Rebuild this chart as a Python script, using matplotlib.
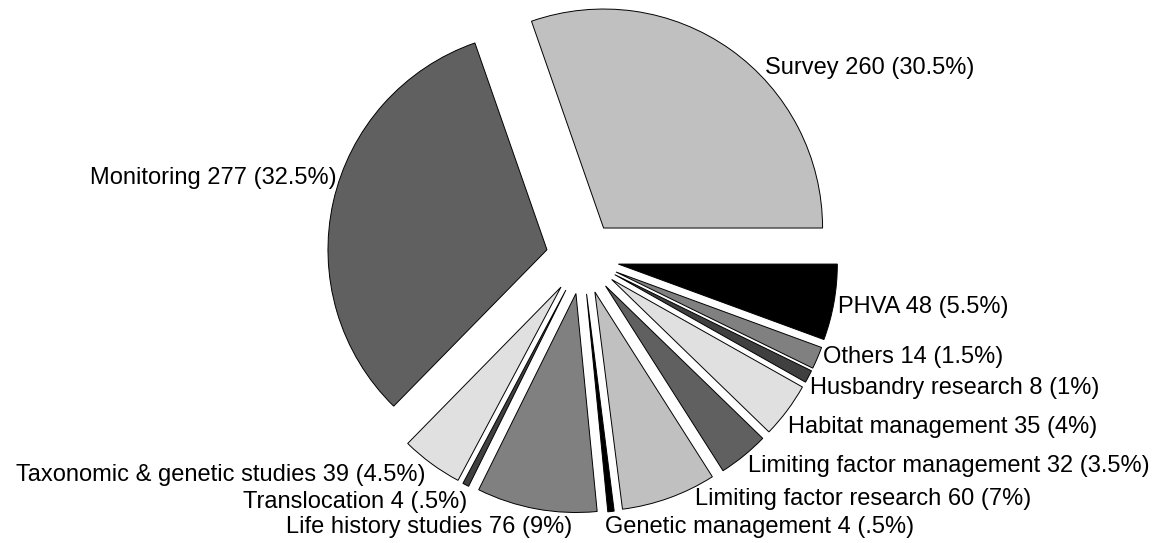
import matplotlib
matplotlib.use("Agg")
import matplotlib.pyplot as plt

plt.rcParams["font.family"] = ["Liberation Sans", "DejaVu Sans"]

# Activity categories and number of projects, counter-clockwise from 3 o'clock
categories = [
    "Survey",
    "Monitoring",
    "Taxonomic & genetic studies",
    "Translocation",
    "Life history studies",
    "Genetic management",
    "Limiting factor research",
    "Limiting factor management",
    "Habitat management",
    "Husbandry research",
    "Others",
    "PHVA",
]
counts = [260, 277, 39, 4, 76, 4, 60, 32, 35, 8, 14, 48]

# Grey shades, repeating every six slices
shades = ["#c0c0c0", "#606060", "#e0e0e0", "#404040", "#808080", "#000000"]
colors = [shades[i % len(shades)] for i in range(len(counts))]

# Label anchors in pixels (x, baseline y from top, horizontal alignment)
label_layout = [
    (765, 74, "left"),
    (337, 184, "right"),
    (425, 481, "right"),
    (467, 508, "right"),
    (572, 533, "right"),
    (605, 533, "left"),
    (695, 505, "left"),
    (748, 472, "left"),
    (788, 433, "left"),
    (810, 394, "left"),
    (823, 363, "left"),
    (838, 313, "left"),
]

W, H = 1159, 543
fig = plt.figure(figsize=(W / 100, H / 100), dpi=100)
ax = fig.add_axes([0, 0, 1, 1])

radius = 219
center = (582.5, H - 257.7)
# every slice is pulled out by the same distance (in data units = pixels)
offset = 36.4
ax.pie(
    counts,
    colors=colors,
    explode=[offset] * len(counts),
    radius=radius,
    center=center,
    startangle=0,
    counterclock=True,
    wedgeprops=dict(edgecolor="black", linewidth=0.7),
)

total = sum(counts)


def pct_text(v):
    half = round(v / total * 200) / 2
    if half == int(half):
        s = f"{int(half)}"
    else:
        s = f"{half:.1f}"
        if s.startswith("0"):
            s = s[1:]
    return s + "%"


for name, v, (x, y, ha) in zip(categories, counts, label_layout):
    ax.text(x, H - y, f"{name} {v} ({pct_text(v)})", ha=ha, va="baseline",
            fontsize=17, color="black")

ax.set_xlim(0, W)
ax.set_ylim(0, H)
ax.set_aspect("equal")
ax.axis("off")

fig.savefig("out.png", dpi=100, facecolor="white")
